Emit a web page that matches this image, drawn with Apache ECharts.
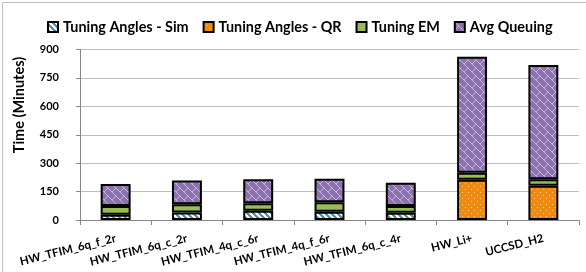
<!DOCTYPE html>
<html><head><meta charset="utf-8">
<script src="https://cdn.jsdelivr.net/npm/echarts@6/dist/echarts.min.js"></script>
<style>html,body{margin:0;padding:0;background:#fff}#c{width:586px;height:272px}</style>
</head><body><div id="c"></div>
<script>
const categories = ['HW_TFIM_6q_f_2r','HW_TFIM_6q_c_2r','HW_TFIM_4q_c_6r','HW_TFIM_4q_f_6r','HW_TFIM_6q_c_4r','HW_Li+','UCCSD_H2'];
const simValues = [28, 40, 49, 44, 38, '-', '-'];
const qrValues = ['-', '-', '-', '-', '-', 213, 181];
const emValues = [46, 43, 39, 50, 36, 37, 34];
const queueValues = [116, 125, 127, 124, 123, 612, 603];
const yTicks = [0, 150, 300, 450, 600, 750, 900];
const seriesNames = ['Tuning Angles - Sim', 'Tuning Angles - QR', 'Tuning EM', 'Avg Queuing'];

const FONT = 'Lato, "Liberation Sans", sans-serif';

function makeTile(w, h, bg, fg, isFg) {
  const c = document.createElement('canvas');
  c.width = w; c.height = h;
  const ctx = c.getContext('2d');
  ctx.fillStyle = bg; ctx.fillRect(0, 0, w, h);
  ctx.fillStyle = fg;
  for (let y = 0; y < h; y++) for (let x = 0; x < w; x++) if (isFg(x, y)) ctx.fillRect(x, y, 1, 1);
  return c;
}
const simTile = makeTile(6, 6, '#3A9BB3', '#ffffff', (x, y) => ((x - y) % 6 + 6) % 6 < 3);
const qrTile = makeTile(6, 6, '#F08A0C', '#FBD3A0', (x, y) => (x === 0 && y === 0) || (x === 3 && y === 3));
const brick = [0x80, 0x40, 0x20, 0x10, 0x18, 0x24, 0x42, 0x81];
const queueTile = makeTile(8, 8, '#8D72B0', '#C6B7DC', (x, y) => (brick[y] >> (7 - x)) & 1);

const colors = [
  { image: simTile, repeat: 'repeat' },
  { image: qrTile, repeat: 'repeat' },
  '#9BBB59',
  { image: queueTile, repeat: 'repeat' }
];
const dataSets = [simValues, qrValues, emValues, queueValues];

const chart = echarts.init(document.getElementById('c'), null, { renderer: 'canvas' });
chart.setOption({
  animation: false,
  backgroundColor: '#fff',
  grid: { left: 80, right: 7, top: 49.5, bottom: 52, containLabel: false },
  legend: {
    left: 42, top: 15,
    itemWidth: 10, itemHeight: 10, itemGap: 14,
    icon: 'rect',
    textStyle: { fontFamily: FONT, fontWeight: 'bold', fontSize: 14.4, color: '#000' },
    data: seriesNames
  },
  xAxis: {
    type: 'category', data: categories,
    axisLine: { lineStyle: { color: '#868686', width: 1 } },
    axisTick: { show: true, length: 5, lineStyle: { color: '#868686' } },
    axisLabel: { rotate: 14, margin: 18, interval: 0, fontFamily: FONT, fontWeight: 'bold', fontSize: 11.5, color: '#000' }
  },
  yAxis: {
    type: 'value', min: 0, max: 900, interval: 150,
    axisLine: { show: true, lineStyle: { color: '#868686' } },
    axisTick: { show: true, length: 4, lineStyle: { color: '#868686' } },
    splitLine: { lineStyle: { color: '#BFBFBF' } },
    axisLabel: { margin: 21, fontFamily: FONT, fontWeight: 'bold', fontSize: 11, color: '#000',
      formatter: v => yTicks.includes(v) ? String(v) : '' }
  },
  graphic: [
    { type: 'rect', left: 0, top: 0, shape: { width: 585, height: 271 }, style: { fill: 'none', stroke: '#BFBFBF', lineWidth: 1 }, silent: true, z: -1, x: 0.5, y: 0.5 },
    { type: 'text', x: 19, y: 105, rotation: Math.PI / 2,
      style: { text: 'Time (Minutes)', fontFamily: FONT, fontWeight: 'bold', fontSize: 14.5, fill: '#000', align: 'center', verticalAlign: 'middle' } }
  ],
  series: seriesNames.map((name, i) => ({
    name, type: 'bar', stack: 'total', barWidth: '42%',
    data: dataSets[i],
    itemStyle: { color: colors[i], borderColor: '#000', borderWidth: 2 }
  }))
});
</script></body></html>
